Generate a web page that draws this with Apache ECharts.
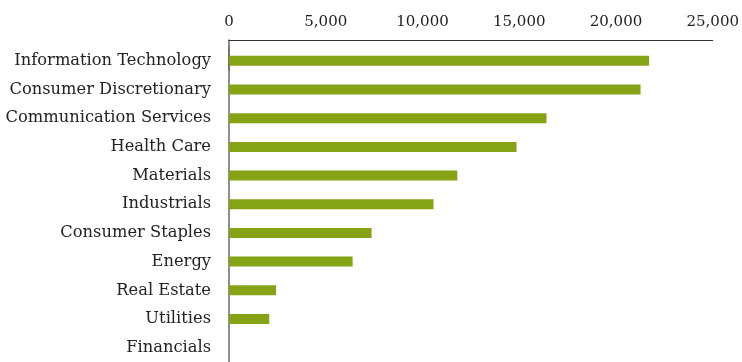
<!DOCTYPE html>
<html>
<head>
<meta charset="utf-8">
<script src="https://cdn.jsdelivr.net/npm/echarts@6/dist/echarts.min.js"></script>
<style>
html,body{margin:0;padding:0;background:#fff;}
#main{width:742px;height:362px;}
</style>
</head>
<body>
<div id="main"></div>
<script>
var categories = ["Information Technology","Consumer Discretionary","Communication Services","Health Care","Materials","Industrials","Consumer Staples","Energy","Real Estate","Utilities","Financials"];
var values = [21710, 21270, 16410, 14860, 11800, 10570, 7370, 6390, 2430, 2080, 0];
var xTicks = {min: 0, max: 25000, interval: 5000};

var FONT = "DejaVu Serif";
var chart = echarts.init(document.getElementById('main'), null, {renderer: 'canvas'});
var yLine = {show: true, lineStyle: {color: '#6a6a6a', width: 1.5}};
chart.setOption({
  animation: false,
  backgroundColor: '#ffffff',
  grid: [
    {left: 229, right: 29, top: 46.5, height: 319.7, containLabel: false},
    {left: 229, right: 29, top: 40, height: 30, containLabel: false}
  ],
  xAxis: [{
    type: 'value',
    position: 'top',
    offset: 6.5,
    min: xTicks.min, max: xTicks.max, interval: xTicks.interval,
    axisLine: {show: true, lineStyle: {color: '#333333', width: 1}},
    axisTick: {show: false},
    splitLine: {show: false},
    axisLabel: {
      color: '#222', fontFamily: FONT, fontSize: 15, margin: 10,
      formatter: function (v) { return v.toLocaleString('en-US'); }
    }
  }, {
    type: 'value', gridIndex: 1, show: false, min: 0, max: 1
  }],
  yAxis: [{
    type: 'category',
    inverse: true,
    data: categories,
    axisLine: yLine,
    axisTick: {show: false},
    axisLabel: {color: '#222', fontFamily: FONT, fontSize: 16.3, margin: 18}
  }, {
    type: 'value', gridIndex: 1, min: 0, max: 1,
    axisLine: yLine,
    axisTick: {show: false}, axisLabel: {show: false}, splitLine: {show: false}
  }],
  series: [{
    type: 'bar',
    data: values,
    barWidth: 10,
    itemStyle: {color: '#86A316'}
  }]
});
</script>
</body>
</html>
